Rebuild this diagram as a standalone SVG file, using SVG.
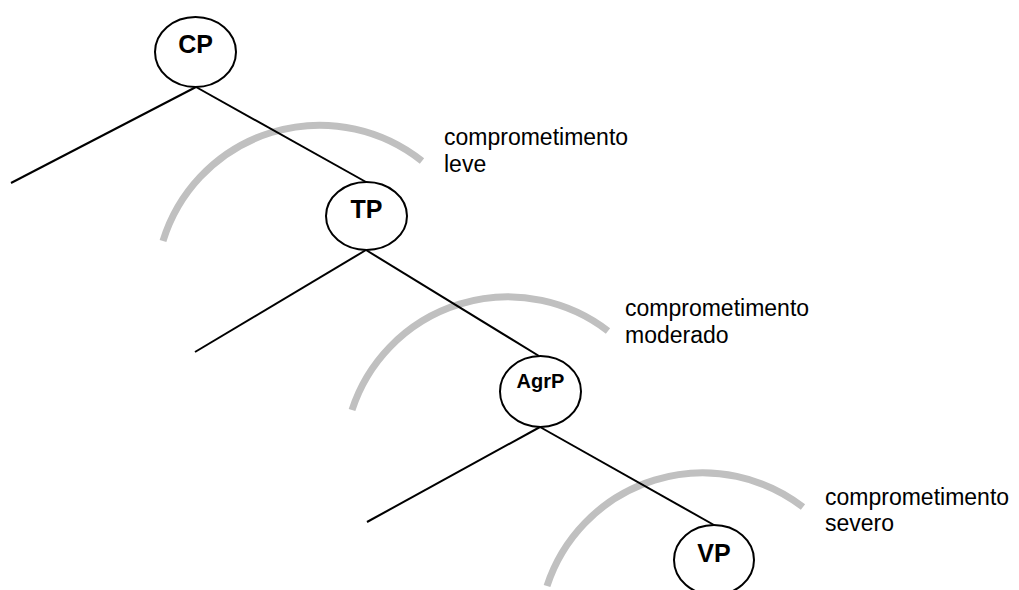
<svg xmlns="http://www.w3.org/2000/svg" width="1019" height="590" viewBox="0 0 1019 590">
<style>
.edge{stroke:#000;stroke-width:2;fill:none}
.arc{stroke:#c0c0c0;stroke-width:7;fill:none}
.node{fill:#fff;stroke:#000;stroke-width:2}
.nl{font-family:"Liberation Sans",Arial,sans-serif;font-weight:bold;fill:#000;text-anchor:middle}
.lab{font-family:"Liberation Sans",Arial,sans-serif;font-size:23px;fill:#000}
</style>
<rect width="1019" height="590" fill="#fff"/>
<g id="arcs">
<path class="arc" d="M163,241 A164,164 0 0 1 422,161"/>
<path class="arc" d="M352,410 A164,164 0 0 1 608,331"/>
<path class="arc" d="M547,586 A164,164 0 0 1 803,507"/>
</g>
<g id="connectors">
<line class="edge" x1="196" y1="87" x2="11" y2="183"/>
<line class="edge" x1="196" y1="87" x2="366" y2="182"/>
<line class="edge" x1="366" y1="250" x2="195" y2="352"/>
<line class="edge" x1="366" y1="250" x2="539" y2="356"/>
<line class="edge" x1="540" y1="427" x2="367" y2="522"/>
<line class="edge" x1="540" y1="427" x2="714" y2="525"/>
</g>
<g id="CP">
<ellipse class="node" cx="195.5" cy="52" rx="40.5" ry="35"/>
<text class="nl" x="195.5" y="53" font-size="25">CP</text>
</g>
<g id="TP">
<ellipse class="node" cx="366.5" cy="216" rx="40.5" ry="34"/>
<text class="nl" x="366.5" y="218" font-size="25">TP</text>
</g>
<g id="AgrP">
<ellipse class="node" cx="540.5" cy="391.5" rx="40.5" ry="35.5"/>
<text class="nl" x="540.5" y="388" font-size="20">AgrP</text>
</g>
<g id="VP">
<ellipse class="node" cx="714" cy="560" rx="40" ry="35"/>
<text class="nl" x="714" y="562" font-size="25">VP</text>
</g>
<g id="labels">
<text class="lab" x="444" y="145">comprometimento<tspan x="444" y="172">leve</tspan></text>
<text class="lab" x="625" y="316">comprometimento<tspan x="625" y="343">moderado</tspan></text>
<text class="lab" x="825" y="505">comprometimento<tspan x="825" y="531">severo</tspan></text>
</g>
</svg>
